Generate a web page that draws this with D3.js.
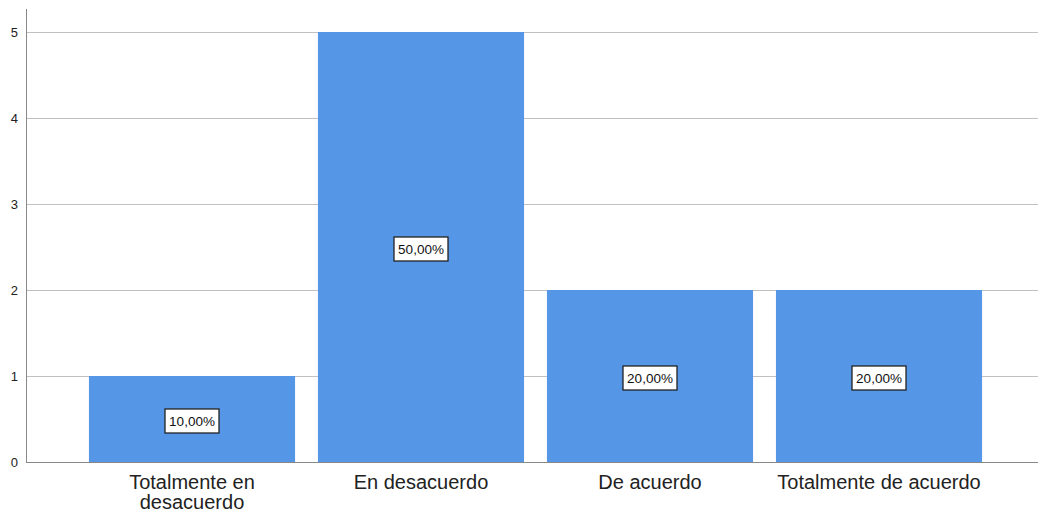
<!DOCTYPE html>
<html><head><meta charset="utf-8">
<script src="https://cdn.jsdelivr.net/npm/d3@7"></script>
<style>body{margin:0;background:#fff}svg{display:block}</style>
</head><body>
<script>
const categories = ["Totalmente en desacuerdo", "En desacuerdo", "De acuerdo", "Totalmente de acuerdo"];
const counts = [1, 5, 2, 2];
const percentLabels = ["10,00%", "50,00%", "20,00%", "20,00%"];
const yTicks = [0, 1, 2, 3, 4, 5];

const W = 1038, H = 513;
const svg = d3.select("body").append("svg").attr("width", W).attr("height", H);
const axisX = 26, plotRight = 1038, plotTop = 9, plotBottom = 462;

const y = d3.scaleLinear().domain([0, 5]).range([plotBottom, 32]);
const x = d3.scaleBand().domain(categories).range([77.5, 993.5]).paddingInner(0.1).paddingOuter(0.05);

// gridlines
svg.append("g").selectAll("line").data(yTicks.filter(d => d > 0)).join("line")
  .attr("x1", axisX).attr("x2", plotRight)
  .attr("y1", d => y(d) + 0.5).attr("y2", d => y(d) + 0.5)
  .attr("stroke", "#c0c0c0").attr("stroke-width", 1);

// bars
svg.append("g").selectAll("rect").data(categories).join("rect")
  .attr("x", d => x(d)).attr("width", x.bandwidth())
  .attr("y", (d, i) => y(counts[i])).attr("height", (d, i) => y(0) - y(counts[i]))
  .attr("fill", "#5596e6");

// axes lines
svg.append("line").attr("x1", axisX + 0.5).attr("x2", axisX + 0.5).attr("y1", plotTop).attr("y2", plotBottom)
  .attr("stroke", "#888").attr("stroke-width", 1);
svg.append("line").attr("x1", axisX).attr("x2", plotRight).attr("y1", plotBottom + 0.5).attr("y2", plotBottom + 0.5)
  .attr("stroke", "#888").attr("stroke-width", 1);

// y tick labels
svg.append("g").selectAll("text").data(yTicks).join("text")
  .attr("x", 18).attr("y", d => y(d)).attr("dy", "0.35em")
  .attr("text-anchor", "end").attr("font-family", "Arial, 'Liberation Sans', sans-serif")
  .attr("font-size", 13).attr("fill", "#222").text(d => d);

// x labels (wrapped)
const xLabelLines = {"Totalmente en desacuerdo": ["Totalmente en", "desacuerdo"]};
const xl = svg.append("g").selectAll("text").data(categories).join("text")
  .attr("text-anchor", "middle").attr("font-family", "Arial, 'Liberation Sans', sans-serif")
  .attr("font-size", 20).attr("fill", "#222")
  .attr("x", d => x(d) + x.bandwidth() / 2).attr("y", 489);
xl.each(function(d) {
  const lines = xLabelLines[d] || [d];
  const t = d3.select(this);
  lines.forEach((l, i) => t.append("tspan").attr("x", x(d) + x.bandwidth() / 2).attr("dy", i === 0 ? 0 : 20).text(l));
});

// value labels
const lg = svg.append("g").selectAll("g").data(categories).join("g")
  .attr("transform", (d, i) => `translate(${x(d) + x.bandwidth() / 2},${y(counts[i] / 2) + 2})`);
lg.append("rect").attr("x", -27).attr("y", -12).attr("width", 54).attr("height", 24)
  .attr("fill", "#fff").attr("stroke", "#222").attr("stroke-width", 1.3);
lg.append("text").attr("text-anchor", "middle").attr("dy", "0.36em")
  .attr("font-family", "Arial, 'Liberation Sans', sans-serif").attr("font-size", 13.5).attr("fill", "#111")
  .text((d, i) => percentLabels[i]);
</script>
</body></html>
